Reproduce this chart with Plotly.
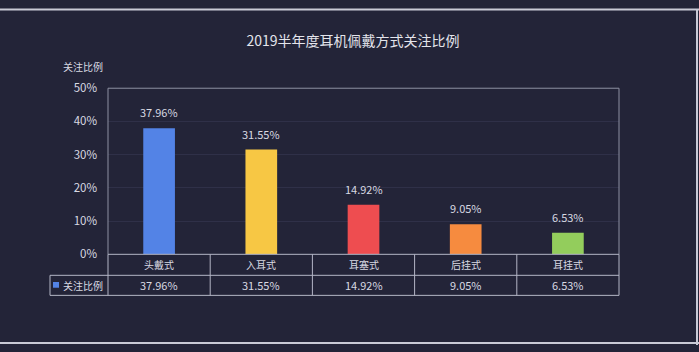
import plotly.graph_objects as go

categories = ["头戴式", "入耳式", "耳塞式", "后挂式", "耳挂式"]
values = [37.96, 31.55, 14.92, 9.05, 6.53]
colors = ["#5383e6", "#f7c744", "#ee4d50", "#f68b3f", "#93cd5c"]
series_name = "关注比例"
title_text = "2019半年度耳机佩戴方式关注比例"
y_ticks = [0, 10, 20, 30, 40, 50]

W, H = 699, 352
BG = "#232438"
LINE = "#b4b6c6"
TXT = "#d8d9e2"
FONT = "Noto Sans CJK SC"

x0, x1 = 108, 619          # plot area px
ytop, ybot = 83, 257
row1, row2 = 279, 300      # table row bottoms
legx = 50

def px(x):
    return x / W

def py(y):
    return 1 - y / H

labels = [f"{v:.2f}%" for v in values]

fig = go.Figure()
fig.add_trace(go.Bar(
    x=list(range(len(categories))), y=values,
    marker=dict(color=colors, line=dict(width=0)),
    width=0.31,
    cliponaxis=False, showlegend=False, hoverinfo="skip",
))

fig.update_layout(
    width=W, height=H,
    margin=dict(l=0, r=0, t=0, b=0),
    paper_bgcolor=BG, plot_bgcolor=BG,
    font=dict(family=FONT, color=TXT),
    title=dict(text=title_text, x=353 / W, xanchor="center", y=py(41), yanchor="middle",
               font=dict(size=14, color="#e4e5ec", family=FONT)),
    xaxis=dict(domain=[px(x0), px(x1)], range=[-0.5, len(categories) - 0.5],
               showticklabels=False, showgrid=False, zeroline=False, showline=False, fixedrange=True),
    yaxis=dict(domain=[py(ybot), py(ytop)], range=[0, 50], tickvals=y_ticks,
               ticktext=[f"{t}%" for t in y_ticks], ticks="", ticklabelstandoff=10,
               tickfont=dict(size=11.5, color=TXT, family=FONT),
               showgrid=True, gridcolor="#2f3048", gridwidth=1,
               zeroline=False, showline=False, fixedrange=True),
    bargap=0.69,
)

shapes = []
def line(xa, ya, xb, yb, color=LINE, w=1):
    shapes.append(dict(type="line", xref="paper", yref="paper",
                       x0=px(xa), y0=py(ya), x1=px(xb), y1=py(yb),
                       line=dict(color=color, width=w)))

# plot border
line(x0, ytop, x1, ytop, "#8e90a2")
line(x1, ytop, x1, ybot, "#8e90a2")
line(x0, ytop, x0, ybot, "#8e90a2")
# table
line(x0, ybot, x1, ybot)
line(legx, row1, x1, row1)
line(legx, row2, x1, row2)
line(legx, row1, legx, row2)
ncat = len(categories)
colw = (x1 - x0) / ncat
for i in range(ncat + 1):
    line(x0 + i * colw, ybot, x0 + i * colw, row2)
# outer frame
line(0, 0.5, W, 0.5, "#c9cad6", 2)
line(W - 2, 0, W - 2, H, "#c9cad6", 2)
line(0, H - 2, W, H - 2, "#c9cad6", 2)
# legend marker
shapes.append(dict(type="rect", xref="paper", yref="paper",
                   x0=px(53), x1=px(59), y0=py(292), y1=py(286),
                   fillcolor=colors[0], line=dict(width=0)))
fig.update_layout(shapes=shapes)

ann = []
# value labels above bars (data coordinates)
for i, (v, l) in enumerate(zip(values, labels)):
    ann.append(dict(x=i, y=v, xref="x", yref="y", text=l, showarrow=False,
                    xanchor="center", yanchor="bottom", yshift=6,
                    font=dict(size=11, color=TXT, family=FONT)))
for i, (c, l) in enumerate(zip(categories, labels)):
    cx = x0 + (i + 0.5) * colw
    ann.append(dict(x=px(cx), y=py((ybot + row1) / 2), text=c, showarrow=False,
                    xref="paper", yref="paper", xanchor="center", yanchor="middle",
                    font=dict(size=10, color=TXT, family=FONT)))
    ann.append(dict(x=px(cx), y=py((row1 + row2) / 2), text=l, showarrow=False,
                    xref="paper", yref="paper", xanchor="center", yanchor="middle",
                    font=dict(size=11, color=TXT, family=FONT)))
ann.append(dict(x=px(61), y=py((row1 + row2) / 2), text=series_name, showarrow=False,
                xref="paper", yref="paper", xanchor="left", yanchor="middle",
                font=dict(size=10, color=TXT, family=FONT)))
ann.append(dict(x=px(83), y=py(60), text=series_name, showarrow=False,
                xref="paper", yref="paper", xanchor="center", yanchor="middle",
                font=dict(size=10, color=TXT, family=FONT)))
fig.update_layout(annotations=ann)

fig.write_html("out.html")
